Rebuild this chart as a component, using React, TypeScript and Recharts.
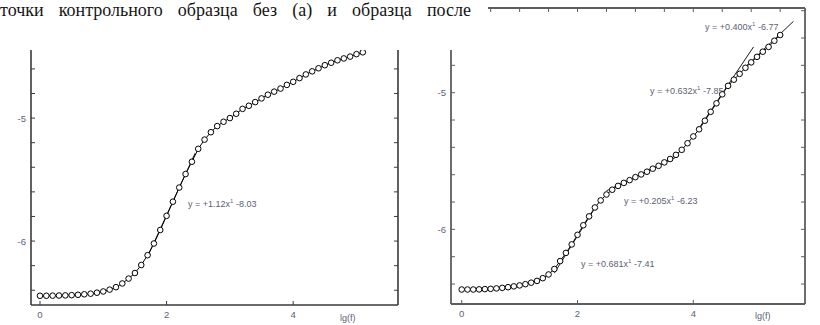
import React from 'react';
import { ComposedChart, Line, XAxis, YAxis } from 'recharts';

// ---- data: panel (a), left ----
const leftLgF = [0, 0.1, 0.2, 0.3, 0.4, 0.5, 0.6, 0.7, 0.8, 0.9, 1.0, 1.1, 1.2, 1.3, 1.4, 1.5, 1.6, 1.7, 1.8, 1.9, 2.0, 2.1, 2.2, 2.3, 2.4, 2.5, 2.6, 2.7, 2.8, 2.9, 3.0, 3.1, 3.2, 3.3, 3.4, 3.5, 3.6, 3.7, 3.8, 3.9, 4.0, 4.1, 4.2, 4.3, 4.4, 4.5, 4.6, 4.7, 4.8, 4.9, 5.0, 5.1];
const leftLgS = [-6.445, -6.445, -6.444, -6.443, -6.442, -6.44, -6.437, -6.433, -6.428, -6.42, -6.41, -6.395, -6.375, -6.345, -6.305, -6.26, -6.195, -6.115, -6.02, -5.91, -5.795, -5.68, -5.565, -5.455, -5.355, -5.25, -5.175, -5.115, -5.065, -5.03, -5.0, -4.965, -4.925, -4.9, -4.87, -4.84, -4.81, -4.785, -4.76, -4.73, -4.705, -4.675, -4.645, -4.62, -4.595, -4.57, -4.55, -4.53, -4.515, -4.5, -4.48, -4.465];
const leftFitX = [1.7, 2.45];
const leftFitY = [-6.126, -5.286];

// ---- data: panel (b), right ----
const rightLgF = [0, 0.1, 0.2, 0.3, 0.4, 0.5, 0.6, 0.7, 0.8, 0.9, 1.0, 1.1, 1.2, 1.3, 1.4, 1.5, 1.6, 1.7, 1.8, 1.9, 2.0, 2.1, 2.2, 2.3, 2.4, 2.5, 2.6, 2.7, 2.8, 2.9, 3.0, 3.1, 3.2, 3.3, 3.4, 3.5, 3.6, 3.7, 3.8, 3.9, 4.0, 4.1, 4.2, 4.3, 4.4, 4.5, 4.6, 4.7, 4.8, 4.9, 5.0, 5.1, 5.2, 5.3, 5.4, 5.5];
const rightLgS = [-6.44, -6.44, -6.44, -6.439, -6.437, -6.435, -6.432, -6.428, -6.423, -6.417, -6.41, -6.401, -6.39, -6.377, -6.357, -6.33, -6.29, -6.232, -6.172, -6.11, -6.04, -5.97, -5.905, -5.84, -5.788, -5.745, -5.71, -5.682, -5.66, -5.64, -5.618, -5.598, -5.578, -5.556, -5.535, -5.51, -5.485, -5.455, -5.418, -5.37, -5.32, -5.268, -5.205, -5.14, -5.078, -5.012, -4.95, -4.905, -4.862, -4.818, -4.778, -4.738, -4.7, -4.665, -4.62, -4.578];
const rightFit1X = [1.6, 2.3];
const rightFit1Y = [-6.32, -5.844];
const rightFit2X = [2.5, 3.7];
const rightFit2Y = [-5.718, -5.472];
const rightFit3X = [4.1, 5.04];
const rightFit3Y = [-5.259, -4.665];
const rightFit4X = [4.9, 5.73];
const rightFit4Y = [-4.81, -4.478];

// ---- tick values / labels ----
const bottomTicks = [0, 2, 4];
const topTicks = [0, 0.5, 1, 1.5, 2, 2.5, 3, 3.5, 4, 4.5, 5, 5.5];
const yTicks = [-6.4, -6.2, -6.0, -5.8, -5.6, -5.4, -5.2, -5.0, -4.8, -4.6, -4.4];
const titleText = 'точки контрольного образца без (а) и образца после';
const leftEquations = ['+1.12', '-8.03'];
const rightEquations = [
  ['+0.400', '-6.77'],
  ['+0.632', '-7.85'],
  ['+0.205', '-6.23'],
  ['+0.681', '-7.41'],
];
const xAxisTitle = 'lg(f)';

const zip = (xs: number[], ys: number[]) => xs.map((x, i) => ({ x, y: ys[i] }));

const labelColor = '#5c6274';
const sansFont = '"Liberation Sans", Arial, sans-serif';

const makeTicks = (color: string) => {
  const YLeft = (p: any) => {
    const v = p.payload.value;
    const major = Math.abs(v - Math.round(v)) < 1e-6;
    return (
      <g>
        <line x1={p.x} x2={p.x + 4} y1={p.y} y2={p.y} stroke={color} strokeWidth={1} />
        {major && (
          <text x={p.x - 5} y={p.y} textAnchor="end" dominantBaseline="central" fontSize={9.5} fill={labelColor} fontFamily={sansFont}>
            {Math.round(v)}
          </text>
        )}
      </g>
    );
  };
  const YRight = (p: any) => (
    <line x1={p.x} x2={p.x - 4} y1={p.y} y2={p.y} stroke={color} strokeWidth={1} />
  );
  const XBottom = (p: any) => (
    <g>
      <line x1={p.x} x2={p.x} y1={p.y} y2={p.y - 4} stroke={color} strokeWidth={1} />
      <text x={p.x} y={p.y + 9} textAnchor="middle" dominantBaseline="central" fontSize={9.5} fill={labelColor} fontFamily={sansFont}>
        {p.payload.value}
      </text>
    </g>
  );
  const XTop = (p: any) => (
    <line x1={p.x} x2={p.x} y1={p.y} y2={p.y + 4} stroke={color} strokeWidth={1} />
  );
  return { YLeft, YRight, XBottom, XTop };
};

const dotStyle = { r: 2.8, stroke: '#000', strokeWidth: 1, fill: '#fff' };

type Panel = {
  width: number;
  height: number;
  margin: { top: number; right: number; bottom: number; left: number };
  yWidth: number;
  xHeight: number;
  xDomain: [number, number];
  yDomain: [number, number];
  axisColor: string;
  axisWidth: number;
  points: { x: number; y: number }[];
  fits: { x: number; y: number }[][];
};

const PanelChart = ({ cfg }: { cfg: Panel }) => {
  const t = makeTicks(cfg.axisColor);
  const axisLine = { stroke: cfg.axisColor, strokeWidth: cfg.axisWidth };
  return (
    <ComposedChart width={cfg.width} height={cfg.height} margin={cfg.margin}>
      <XAxis xAxisId="b" dataKey="x" type="number" domain={cfg.xDomain} allowDataOverflow ticks={bottomTicks} interval={0} tickSize={0} tickMargin={0} tickLine={false} axisLine={axisLine} tick={t.XBottom} height={cfg.xHeight} />
      <XAxis xAxisId="t" orientation="top" dataKey="x" type="number" domain={cfg.xDomain} allowDataOverflow ticks={topTicks} interval={0} tickSize={0} tickMargin={0} tickLine={false} axisLine={axisLine} tick={t.XTop} height={1} />
      <YAxis yAxisId="l" dataKey="y" type="number" domain={cfg.yDomain} allowDataOverflow ticks={yTicks} interval={0} tickSize={0} tickMargin={0} tickLine={false} axisLine={axisLine} tick={t.YLeft} width={cfg.yWidth} />
      <YAxis yAxisId="r" orientation="right" dataKey="y" type="number" domain={cfg.yDomain} allowDataOverflow ticks={yTicks} interval={0} tickSize={0} tickMargin={0} tickLine={false} axisLine={axisLine} tick={t.YRight} width={1} />
      <Line xAxisId="t" yAxisId="r" data={cfg.points} dataKey="y" type="linear" stroke="none" dot={false} activeDot={false} isAnimationActive={false} />
      {cfg.fits.map((f, i) => (
        <Line key={'f' + i} xAxisId="b" yAxisId="l" data={f} dataKey="y" type="linear" stroke="#000" strokeWidth={0.9} dot={false} isAnimationActive={false} />
      ))}
      <Line xAxisId="b" yAxisId="l" data={cfg.points} dataKey="y" type="linear" stroke="#000" strokeWidth={1} dot={dotStyle} isAnimationActive={false} />
    </ComposedChart>
  );
};

const leftCfg: Panel = {
  width: 410,
  height: 325,
  margin: { top: 31, right: 11, bottom: 0, left: 0 },
  yWidth: 31,
  xHeight: 20,
  xDomain: [-0.142, 5.656],
  yDomain: [-6.52, -4.3],
  axisColor: '#3a3a3a',
  axisWidth: 1.6,
  points: zip(leftLgF, leftLgS),
  fits: [zip(leftFitX, leftFitY)],
};

const rightCfg: Panel = {
  width: 410,
  height: 325,
  margin: { top: 7, right: 14, bottom: 0, left: 0 },
  yWidth: 41,
  xHeight: 21,
  xDomain: [-0.185, 5.929],
  yDomain: [-6.546, -4.3804],
  axisColor: '#5e5e5e',
  axisWidth: 1.8,
  points: zip(rightLgF, rightLgS),
  fits: [zip(rightFit1X, rightFit1Y), zip(rightFit2X, rightFit2Y), zip(rightFit3X, rightFit3Y), zip(rightFit4X, rightFit4Y)],
};

const Equation = ({ k, b, left, top }: { k: string; b: string; left: number; top: number }) => (
  <span style={{ position: 'absolute', left, top, fontFamily: sansFont, fontSize: 9, lineHeight: '11px', color: labelColor, whiteSpace: 'nowrap' }}>
    y = {k}x<sup style={{ fontSize: 6, verticalAlign: 'top', position: 'relative', top: -3 }}>1</sup> {b}
  </span>
);

export default function App() {
  return (
    <div style={{ position: 'absolute', left: 0, top: 0, width: 820, height: 325, background: '#fff', overflow: 'hidden' }}>
      <Equation k={leftEquations[0]} b={leftEquations[1]} left={188} top={199} />
      <Equation k={rightEquations[0][0]} b={rightEquations[0][1]} left={705} top={22} />
      <Equation k={rightEquations[1][0]} b={rightEquations[1][1]} left={650} top={86} />
      <Equation k={rightEquations[2][0]} b={rightEquations[2][1]} left={624} top={196} />
      <Equation k={rightEquations[3][0]} b={rightEquations[3][1]} left={581} top={259} />
      <span style={{ position: 'absolute', left: 340, top: 313, fontFamily: sansFont, fontSize: 9, color: labelColor }}>{xAxisTitle}</span>
      <span style={{ position: 'absolute', left: 755, top: 311, fontFamily: sansFont, fontSize: 9, color: labelColor }}>{xAxisTitle}</span>
      <div style={{ position: 'absolute', left: 0, top: 0 }}>
        <PanelChart cfg={leftCfg} />
      </div>
      <div style={{ position: 'absolute', left: 410, top: 0 }}>
        <PanelChart cfg={rightCfg} />
      </div>
      <div style={{ position: 'absolute', left: 0, top: 0, width: 488, height: 50, background: '#fff' }}>
        <div style={{ position: 'absolute', left: 0, top: 0, width: 471, fontFamily: '"Liberation Serif", "Times New Roman", serif', fontSize: 18, lineHeight: '21px', color: '#151515', textAlign: 'justify', textAlignLast: 'justify' as any }}>
          {titleText}
        </div>
      </div>
    </div>
  );
}
